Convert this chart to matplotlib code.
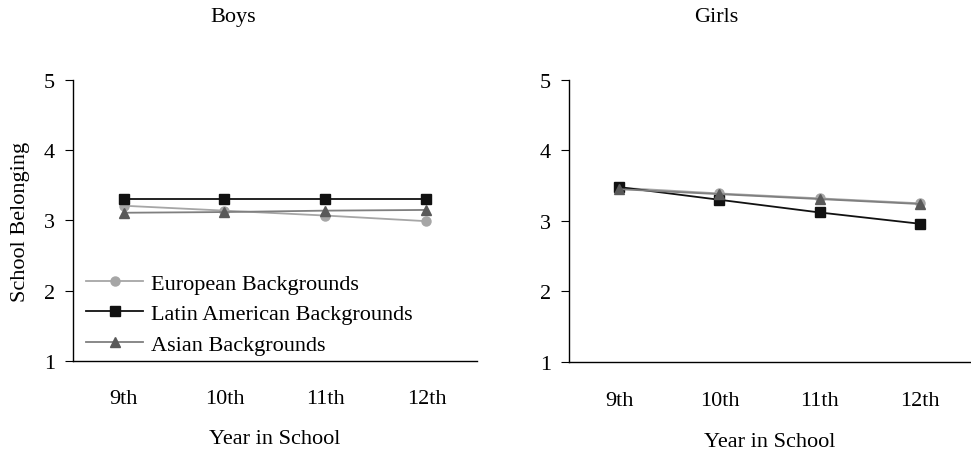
# School belonging by year, boys vs girls

import matplotlib
matplotlib.use('Agg')
import matplotlib.pyplot as plt

plt.rcParams['font.family'] = ['Liberation Serif', 'DejaVu Serif']
plt.rcParams['font.size'] = 16

# Data
years = ['9th', '10th', '11th', '12th']
series_names = ['European Backgrounds', 'Latin American Backgrounds', 'Asian Backgrounds']

boys_european = [3.21, 3.14, 3.07, 2.99]
boys_latin = [3.30, 3.30, 3.30, 3.30]
boys_asian = [3.11, 3.12, 3.14, 3.15]

girls_european = [3.47, 3.39, 3.32, 3.25]
girls_latin = [3.48, 3.30, 3.12, 2.96]
girls_asian = [3.45, 3.38, 3.31, 3.24]

yticks = [1, 2, 3, 4, 5]

# styles: (line colour, marker, marker colour)
styles = [('#a6a6a6', 'o', '#a6a6a6'),
          ('#111111', 's', '#111111'),
          ('#7f7f7f', '^', '#595959')]

fig = plt.figure(figsize=(9.71, 4.52), dpi=100)
ax1 = fig.add_axes([0.0752, 0.199, 0.416, 0.622])
ax2 = fig.add_axes([0.586, 0.197, 0.413, 0.624])

def draw_panel(ax, data, xpad, lpad):
    x = range(len(years))
    for vals, name, (lc, mk, mc) in zip(data, series_names, styles):
        ax.plot(x, vals, color=lc, lw=1.3, marker=mk, markersize=6.5,
                markerfacecolor=mc, markeredgecolor=mc, label=name)
    ax.set_xlim(-0.5, 3.5)
    ax.set_ylim(1, 5)
    ax.set_xticks(list(x))
    ax.set_xticklabels(years)
    ax.set_yticks(yticks)
    ax.spines['top'].set_visible(False)
    ax.spines['right'].set_visible(False)
    for s in ['left', 'bottom']:
        ax.spines[s].set_linewidth(1.0)
    ax.tick_params(axis='x', length=0, pad=xpad)
    ax.tick_params(axis='y', length=6, pad=7, direction='out')
    ax.set_xlabel('Year in School', labelpad=lpad)

draw_panel(ax1, [boys_european, boys_latin, boys_asian], 20, 15)
draw_panel(ax2, [girls_european, girls_latin, girls_asian], 21, 16)

ax1.set_ylabel('School Belonging', labelpad=10)
ax1.legend(loc='lower left', bbox_to_anchor=(0.0, -0.025), frameon=False,
           handlelength=2.56, handletextpad=0.35, labelspacing=0.45,
           borderaxespad=0.2)

fig.text(0.240, 0.962, 'Boys', ha='center', va='center')
fig.text(0.738, 0.962, 'Girls', ha='center', va='center')

fig.savefig('out.png', dpi=100)
